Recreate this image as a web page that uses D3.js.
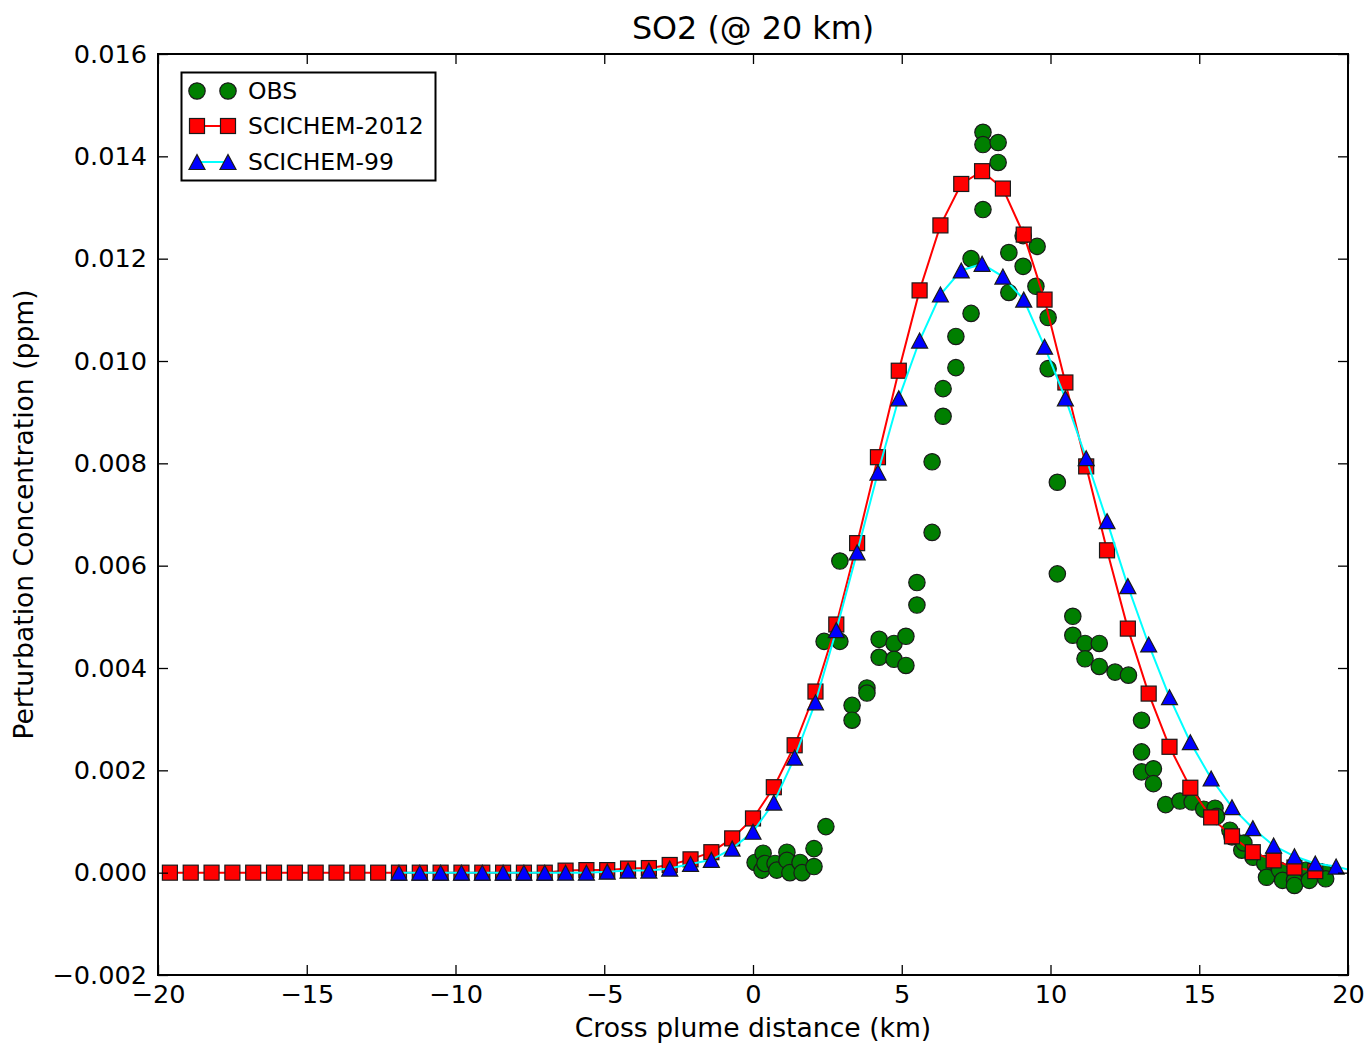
<!DOCTYPE html>
<html>
<head>
<meta charset="utf-8">
<script src="https://cdn.jsdelivr.net/npm/d3@7/dist/d3.min.js"></script>
<style>
  html, body { margin: 0; padding: 0; background: #fff; }
  svg { display: block; font-family: "DejaVu Sans", sans-serif; }
</style>
</head>
<body>
<svg id="chart" width="1367" height="1044"></svg>
<script>
// Cross-plume SO2 perturbation concentration at 20 km downwind

// Model grid (km) and SCICHEM-2012 values (ppm)
const x2012 = [-19.6,-18.9,-18.2,-17.5,-16.8,-16.1,-15.4,-14.7,-14.0,-13.3,-12.6,-11.9,-11.2,-10.5,-9.8,-9.1,-8.4,-7.7,-7.0,-6.3,-5.6,-4.9,-4.2,-3.5,-2.8,-2.1,-1.4,-0.7,0.0,0.7,1.4,2.1,2.8,3.5,4.2,4.9,5.6,6.3,7.0,7.7,8.4,9.1,9.8,10.5,11.2,11.9,12.6,13.3,14.0,14.7,15.4,16.1,16.8,17.5,18.2,18.9];
const y2012 = [0,0,0,0,0,0,0,0,0,0,0,0,0,0,0,0,0,0,0,0.00004,0.00005,0.00005,0.00008,0.00009,0.00015,0.00026,0.00040,0.00067,0.00106,0.00167,0.00249,0.00354,0.00485,0.00644,0.00812,0.00981,0.01138,0.01265,0.01346,0.01371,0.01337,0.01247,0.01120,0.00958,0.00794,0.00630,0.00477,0.00350,0.00246,0.00166,0.00108,0.00071,0.00040,0.00024,0.00010,0.00003];

// SCICHEM-99 values (ppm)
const x99 = [-11.9,-11.2,-10.5,-9.8,-9.1,-8.4,-7.7,-7.0,-6.3,-5.6,-4.9,-4.2,-3.5,-2.8,-2.1,-1.4,-0.7,0.0,0.7,1.4,2.1,2.8,3.5,4.2,4.9,5.6,6.3,7.0,7.7,8.4,9.1,9.8,10.5,11.2,11.9,12.6,13.3,14.0,14.7,15.4,16.1,16.8,17.5,18.2,18.9,19.6,20.3];
const y99 = [0,0,0,0,0,0,0,0,0,0,0.00002,0.00004,0.00004,0.00008,0.00017,0.00025,0.00047,0.00080,0.00137,0.00225,0.00333,0.00474,0.00626,0.00782,0.00927,0.01040,0.01130,0.01177,0.01190,0.01165,0.01120,0.01028,0.00927,0.00810,0.00687,0.00560,0.00446,0.00343,0.00255,0.00184,0.00128,0.00087,0.00053,0.00032,0.00018,0.00012,0.00002];

// Observed traverse (km, ppm)
const xObs = [0.07,0.30,0.34,0.40,0.74,0.80,1.14,1.14,1.24,1.58,1.65,2.05,2.05,2.45,
  2.39,2.92,2.92,3.33,3.33,3.83,3.83,4.24,4.24,4.74,4.74,5.14,5.14,5.51,5.51,6.02,6.02,6.39,6.39,6.82,6.82,7.33,7.33,7.73,7.73,7.73,8.24,8.24,8.60,8.60,9.08,9.08,9.55,9.51,9.92,9.92,
  10.23,10.23,10.75,10.75,11.16,11.16,11.64,11.64,12.17,12.62,13.06,13.06,13.06,13.46,13.46,13.87,14.35,14.76,15.15,15.53,15.58,16.03,16.10,16.43,16.50,16.81,17.20,17.26,17.70,17.80,18.20,18.20,18.60,18.70,19.20,19.25];
const yObs = [0.00020,0.00005,0.00038,0.00018,0.00018,0.00005,0.00040,0.00024,0.00000,0.00020,0.00000,0.00047,0.00012,0.00090,
  0.00452,0.00609,0.00452,0.00327,0.00298,0.00361,0.00351,0.00456,0.00421,0.00448,0.00417,0.00462,0.00405,0.00567,0.00523,0.00803,0.00665,0.00946,0.00892,0.01048,0.00987,0.01200,0.01093,0.01447,0.01423,0.01296,0.01427,0.01388,0.01212,0.01134,0.01245,0.01185,0.01224,0.01146,0.01085,0.00985,
  0.00763,0.00584,0.00501,0.00464,0.00448,0.00418,0.00448,0.00403,0.00392,0.00386,0.00298,0.00236,0.00197,0.00203,0.00174,0.00133,0.00140,0.00138,0.00124,0.00126,0.00110,0.00083,0.00070,0.00044,0.00058,0.00030,0.00018,-0.00009,0.00005,-0.00015,-0.00015,-0.00025,0.00005,-0.00015,0.00000,-0.00012];

const xTicks = [-20,-15,-10,-5,0,5,10,15,20];
const yTicks = [-0.002,0,0.002,0.004,0.006,0.008,0.010,0.012,0.014,0.016];

const titleText = "SO2 (@ 20 km)";
const xLabel = "Cross plume distance (km)";
const yLabel = "Perturbation Concentration (ppm)";
const legendNames = ["OBS", "SCICHEM-2012", "SCICHEM-99"];

// Layout
const L = 158, R = 1348, T = 54, B = 975;
const svg = d3.select("#chart");

const x = d3.scaleLinear().domain([-20, 20]).range([L, R]);
const y = d3.scaleLinear().domain([-0.002, 0.016]).range([B, T]);

const green = "#007f00", red = "#ff0000", blue = "#0000ff", cyan = "#00ffff";
const edge = "#1a1a1a";

svg.append("defs").append("clipPath").attr("id", "plotClip")
  .append("rect").attr("x", L).attr("y", T).attr("width", R - L).attr("height", B - T);

const plot = svg.append("g").attr("clip-path", "url(#plotClip)");

// Marker shapes
const circleR = 8.2;
const sq = 15;
const triW = 16, triH = 15;
function triPath(cx, cy) {
  return `M${cx},${cy - triH / 2}L${cx + triW / 2},${cy + triH / 2}L${cx - triW / 2},${cy + triH / 2}Z`;
}

// Observations
const obs = xObs.map((v, i) => ({ x: v, y: yObs[i] }));
plot.append("g").selectAll("circle").data(obs).join("circle")
  .attr("cx", d => x(d.x)).attr("cy", d => y(d.y)).attr("r", circleR)
  .attr("fill", green).attr("stroke", edge).attr("stroke-width", 1.2);

const line = d3.line().x(d => x(d.x)).y(d => y(d.y));

// SCICHEM-2012
const s2012 = x2012.map((v, i) => ({ x: v, y: y2012[i] }));
plot.append("path").datum(s2012).attr("d", line)
  .attr("fill", "none").attr("stroke", red).attr("stroke-width", 2);
plot.append("g").selectAll("rect").data(s2012).join("rect")
  .attr("x", d => x(d.x) - sq / 2).attr("y", d => y(d.y) - sq / 2)
  .attr("width", sq).attr("height", sq)
  .attr("fill", red).attr("stroke", edge).attr("stroke-width", 1.2);

// SCICHEM-99
const s99 = x99.map((v, i) => ({ x: v, y: y99[i] }));
plot.append("path").datum(s99).attr("d", line)
  .attr("fill", "none").attr("stroke", cyan).attr("stroke-width", 2);
plot.append("g").selectAll("path").data(s99).join("path")
  .attr("d", d => triPath(x(d.x), y(d.y)))
  .attr("fill", blue).attr("stroke", edge).attr("stroke-width", 1.2);

// Axes with inward ticks on all four sides
const fmtY = d3.format(".3f");
const tickFont = 25.6;
const labelFont = 26.6;

const gx = svg.append("g").attr("transform", `translate(0,${B})`)
  .call(d3.axisBottom(x).tickValues(xTicks).tickSize(-10).tickPadding(10).tickFormat(d3.format("d")));
const gy = svg.append("g").attr("transform", `translate(${L},0)`)
  .call(d3.axisLeft(y).tickValues(yTicks).tickSize(-10).tickPadding(11).tickFormat(fmtY));
const gt = svg.append("g").attr("transform", `translate(0,${T})`)
  .call(d3.axisTop(x).tickValues(xTicks).tickSize(-10).tickFormat(""));
const gr = svg.append("g").attr("transform", `translate(${R},0)`)
  .call(d3.axisRight(y).tickValues(yTicks).tickSize(-10).tickFormat(""));

[gx, gy, gt, gr].forEach(g => {
  g.select(".domain").remove();
  g.selectAll(".tick line").attr("stroke", "#000").attr("stroke-width", 1.3);
  g.selectAll(".tick text").attr("fill", "#000")
    .attr("font-family", "DejaVu Sans, sans-serif").attr("font-size", tickFont);
});

// Frame
svg.append("rect").attr("x", L).attr("y", T).attr("width", R - L).attr("height", B - T)
  .attr("fill", "none").attr("stroke", "#000").attr("stroke-width", 2);

// Titles
svg.append("text").attr("x", (L + R) / 2).attr("y", 39).attr("text-anchor", "middle")
  .attr("font-size", 31.8).attr("fill", "#000").text(titleText);
svg.append("text").attr("x", (L + R) / 2).attr("y", 1037).attr("text-anchor", "middle")
  .attr("font-size", labelFont).attr("fill", "#000").text(xLabel);
svg.append("text").attr("transform", `translate(33,${(T + B) / 2}) rotate(-90)`)
  .attr("text-anchor", "middle").attr("font-size", labelFont).attr("fill", "#000").text(yLabel);

// Legend
const lg = svg.append("g");
lg.append("rect").attr("x", 181.5).attr("y", 72.5).attr("width", 254).attr("height", 108)
  .attr("fill", "#fff").attr("stroke", "#000").attr("stroke-width", 2);
const rowY = [91, 126, 162];
const mx = [197, 228];

mx.forEach(px => lg.append("circle").attr("cx", px).attr("cy", rowY[0]).attr("r", circleR)
  .attr("fill", green).attr("stroke", edge).attr("stroke-width", 1.2));

lg.append("line").attr("x1", mx[0]).attr("x2", mx[1]).attr("y1", rowY[1]).attr("y2", rowY[1])
  .attr("stroke", red).attr("stroke-width", 2);
mx.forEach(px => lg.append("rect").attr("x", px - sq / 2).attr("y", rowY[1] - sq / 2)
  .attr("width", sq).attr("height", sq)
  .attr("fill", red).attr("stroke", edge).attr("stroke-width", 1.2));

lg.append("line").attr("x1", mx[0]).attr("x2", mx[1]).attr("y1", rowY[2]).attr("y2", rowY[2])
  .attr("stroke", cyan).attr("stroke-width", 2);
mx.forEach(px => lg.append("path").attr("d", triPath(px, rowY[2]))
  .attr("fill", blue).attr("stroke", edge).attr("stroke-width", 1.2));

legendNames.forEach((name, i) => {
  lg.append("text").attr("x", 248).attr("y", rowY[i]).attr("dy", "0.36em")
    .attr("font-size", 23.5).attr("fill", "#000").text(name);
});
</script>
</body>
</html>
